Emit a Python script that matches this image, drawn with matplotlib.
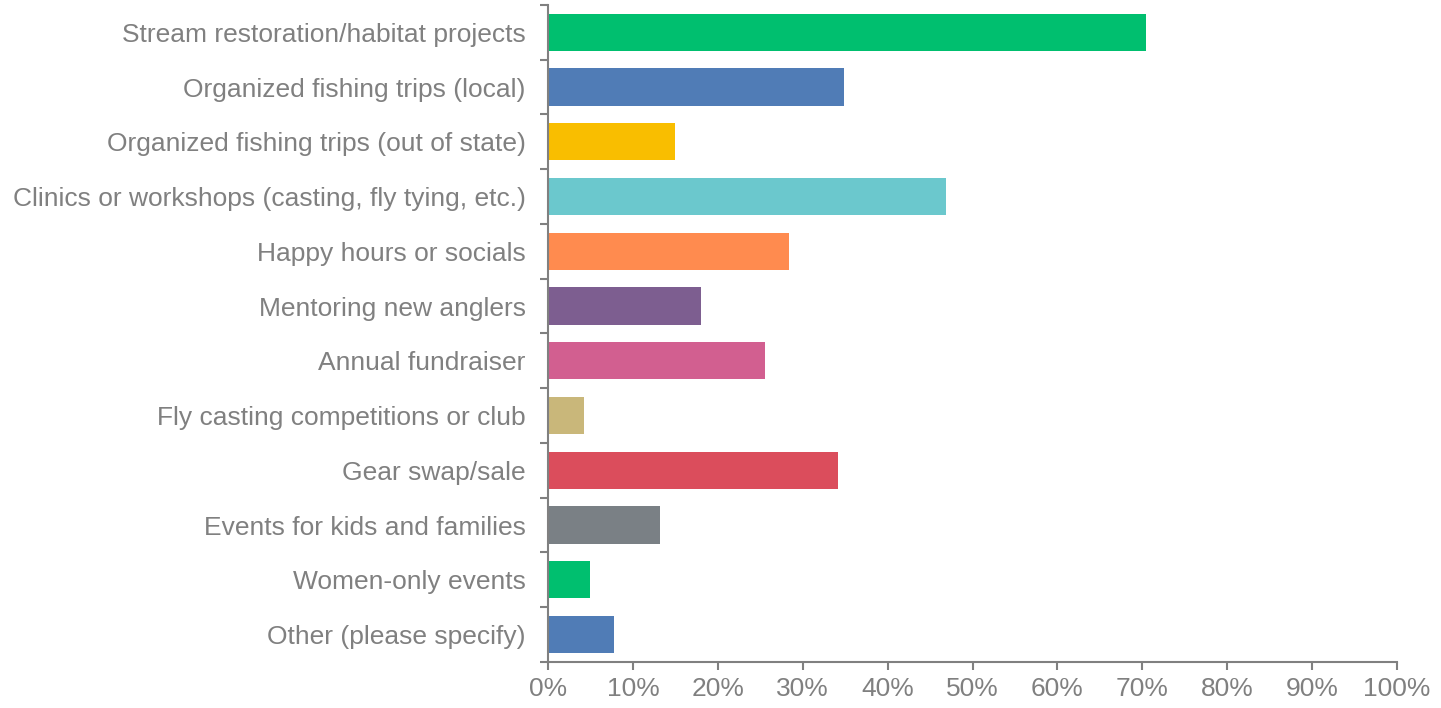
import numpy as np
import matplotlib.pyplot as plt

categories = [
    "Stream restoration/habitat projects",
    "Organized fishing trips (local)",
    "Organized fishing trips (out of state)",
    "Clinics or workshops (casting, fly tying, etc.)",
    "Happy hours or socials",
    "Mentoring new anglers",
    "Annual fundraiser",
    "Fly casting competitions or club",
    "Gear swap/sale",
    "Events for kids and families",
    "Women-only events",
    "Other (please specify)",
]
values = [70.4, 34.9, 14.9, 46.9, 28.4, 18.0, 25.6, 4.2, 34.2, 13.2, 4.9, 7.8]
colors = ["#00BF6F", "#507CB6", "#F9BE00", "#6BC8CD", "#FF8B4F", "#7D5E90",
          "#D25F90", "#C9B77A", "#DB4D5C", "#7A8085", "#00BF6F", "#507CB6"]

plt.rcParams['font.family'] = ['Liberation Sans', 'DejaVu Sans']
gray = "#808080"

fig = plt.figure(figsize=(14.41, 7.08), dpi=100)
ax = fig.add_axes([0.3803, 0.065, 0.5892, 0.928])

y = np.arange(len(categories))
ax.barh(y, values, height=0.68, color=colors)
ax.set_ylim(len(categories) - 0.5, -0.5)
ax.set_xlim(0, 100)

# labels on the bars, tick marks between the categories
ax.set_yticks(y)
ax.set_yticklabels(categories)
ax.set_yticks(np.arange(-0.5, len(categories)), minor=True)
ax.tick_params(axis='y', which='major', length=0, pad=16, labelsize=19, labelcolor=gray)
ax.tick_params(axis='y', which='minor', length=6, width=1.5, color=gray)

ax.set_xticks(np.arange(0, 101, 10))
ax.set_xticklabels([f"{v}%" for v in range(0, 101, 10)])
ax.tick_params(axis='x', length=6, width=1.5, color=gray, labelsize=19, labelcolor=gray, pad=5)

for s in ['top', 'right']:
    ax.spines[s].set_visible(False)
for s in ['left', 'bottom']:
    ax.spines[s].set_color(gray)
    ax.spines[s].set_linewidth(1.5)

fig.savefig("out.png", dpi=100)
